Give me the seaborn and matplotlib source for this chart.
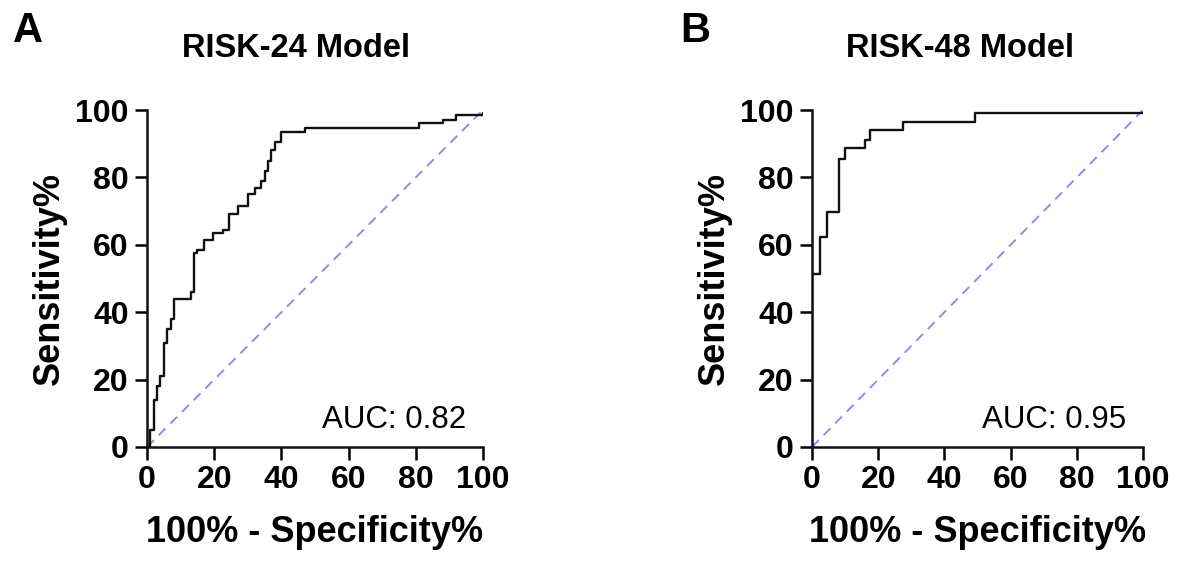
import matplotlib
matplotlib.use('Agg')
import matplotlib.pyplot as plt
import seaborn as sns
import numpy as np

# ROC data (100% - specificity, sensitivity)
fpr_24 = [0, 1, 2, 3, 4, 5, 6, 7, 8, 13, 14, 15, 17, 19.5, 22.5, 24.5, 27, 30, 32,
          34, 35, 36, 37, 38, 40, 47, 81, 88, 92, 100]
tpr_24 = [0, 5, 14, 18, 21, 31, 35, 38, 44, 46, 57.5, 58.5, 61.5, 63.5, 64.5, 69, 71.5,
          75, 77, 79, 82, 85, 88, 90.5, 93.5, 94.7, 96, 97, 98.5, 99]

fpr_48 = [0, 0, 2.5, 4.5, 8.3, 10, 16, 17.6, 27.6, 49.2, 100]
tpr_48 = [0, 51.2, 62.2, 69.7, 85.6, 88.6, 91, 94, 96.5, 99, 99]

ref_line = [0, 100]
ticks = [0, 20, 40, 60, 80, 100]

panels = [
    ('A', 'RISK-24 Model', fpr_24, tpr_24, 'AUC: 0.82'),
    ('B', 'RISK-48 Model', fpr_48, tpr_48, 'AUC: 0.95'),
]

sns.set_style("ticks")
plt.rcParams['font.family'] = ['Liberation Sans', 'DejaVu Sans']
plt.rcParams['text.color'] = 'black'
plt.rcParams['axes.labelcolor'] = 'black'

W, H = 1177, 561
fig = plt.figure(figsize=(W / 100, H / 100), dpi=100)

# axes boxes in pixels: left, top(y=100), right, bottom(y=0)
boxes = [(147, 110, 483, 447), (812, 110, 1143, 447)]
letter_x = [13, 680]
title_x = [296, 960]

for (letter, title, fpr, tpr, auc), (l, t, r, b), lx, tx in zip(panels, boxes, letter_x, title_x):
    ax = fig.add_axes([l / W, 1 - b / H, (r - l) / W, (b - t) / H])
    sns.lineplot(x=ref_line, y=ref_line, ax=ax, color='#8a8aff', lw=1.4,
                 linestyle=(0, (5, 3.5)), estimator=None, sort=False)
    sns.lineplot(x=fpr, y=tpr, ax=ax, color='#111111', lw=1.7,
                 drawstyle='steps-post', estimator=None, sort=False)
    ax.set_xlim(0, 100)
    ax.set_ylim(0, 100)
    ax.set_xticks(ticks)
    ax.set_yticks(ticks)
    ax.tick_params(length=9, width=1.8, labelsize=23, pad=4, colors='black')
    for lab in ax.get_xticklabels() + ax.get_yticklabels():
        lab.set_fontweight('bold')
    for side in ['top', 'right']:
        ax.spines[side].set_visible(False)
    for side in ['left', 'bottom']:
        ax.spines[side].set_linewidth(1.8)
        ax.spines[side].set_color('#111111')
    ax.set_xlabel('100% - Specificity%', fontsize=26, fontweight='bold', labelpad=14)
    ax.set_ylabel('Sensitivity%', fontsize=26, fontweight='bold', labelpad=6)
    ax.text(95, 5.5, auc, ha='right', va='baseline', fontsize=22.5)

    fig.text(lx / W, 1 - 42 / H, letter, fontsize=30, fontweight='bold', va='baseline')
    fig.text(tx / W, 1 - 57 / H, title, fontsize=23.5, fontweight='bold', ha='center', va='baseline')

plt.savefig('out.png', dpi=100)
plt.close()
